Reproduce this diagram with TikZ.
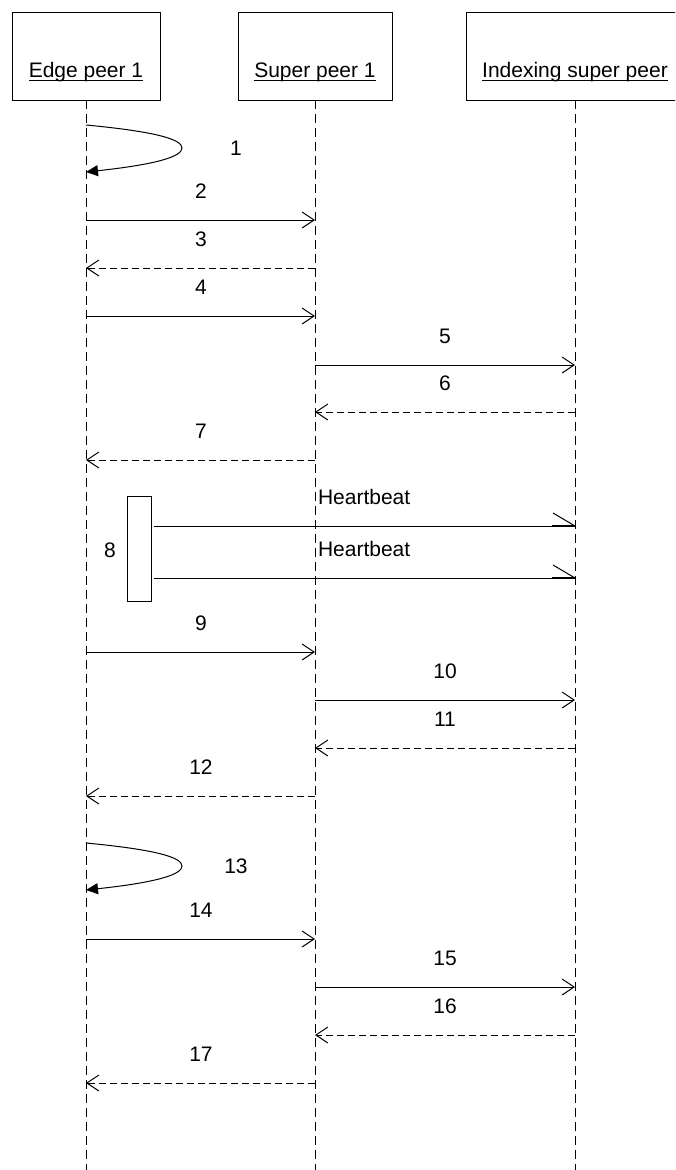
\documentclass[tikz,border=0pt]{standalone}
\usepackage{fontspec}
\setmainfont{Liberation Sans}
\usetikzlibrary{arrows.meta}
\newcommand\ulin[1]{\setbox0\hbox{#1}\rlap{\vrule height -3pt depth 4.3pt width \wd0}\box0}
\begin{document}
\begin{tikzpicture}[x=1pt,y=-1pt,
  every node/.style={font=\fontsize{21}{25}\selectfont, inner sep=0pt, outer sep=0pt},
  head/.style={draw, line width=1pt, minimum height=88pt, anchor=north west},
  title/.style={anchor=base},
  life/.style={line width=1pt, dash pattern=on 9pt off 5pt},
  msg/.style={line width=1pt, -{Straight Barb[length=12pt,width=16pt,line width=1pt]}},
  reply/.style={msg, dash pattern=on 7pt off 4pt},
  selfmsg/.style={line width=1pt, -{Triangle[length=12pt,width=11pt]}},
  lbl/.style={anchor=center},
  hb/.style={line width=1pt},
  hbtip/.style={line width=2pt},
]
\useasboundingbox (0,0) rectangle (675,1170);
\clip (0,0) rectangle (675,1170);

% headers
\node[head, minimum width=148pt] (E) at (12,12) {};
\node[head, minimum width=154pt] (S) at (238,12) {};
\node[head, minimum width=218pt] (I) at (466,12) {};
\node[title] (Et) at (E.center |- 0,77) {\ulin{Edge peer 1}};
\node[title] (St) at (S.center |- 0,77) {\ulin{Super peer 1}};
\node[title] (It) at (I.center |- 0,77) {\ulin{Indexing super peer}};

% lifelines
\coordinate (Eb) at (E.south |- 0,1170);
\coordinate (Sb) at (S.south |- 0,1170);
\coordinate (Ib) at (I.south |- 0,1170);
\draw[life] (E.south) -- (Eb);
\draw[life] (S.south) -- (Sb);
\draw[life] (I.south) -- (Ib);

% message 1 (self)
\coordinate (s1a) at (E.south |- 0,125);
\coordinate (s1b) at (E.south |- 0,172);
\draw[selfmsg] (s1a) .. controls (160,132) and (182,140) .. (182,148)
  .. controls (182,156) and (160,164) .. (s1b);
\node[lbl] (l1) at (236,148) {1};

% E -> S solid
\foreach \n/\y in {2/220,4/316,9/652,14/939}{
  \coordinate (a\n) at (E.south |- 0,\y);
  \coordinate (b\n) at (S.south |- 0,\y);
  \draw[msg] (a\n) -- (b\n);
  \node[lbl] (l\n) at (201,\y-29) {\n};
}
% S -> E dashed
\foreach \n/\y in {3/268,7/460,12/796,17/1083}{
  \coordinate (a\n) at (S.south |- 0,\y);
  \coordinate (b\n) at (E.south |- 0,\y);
  \draw[reply] (a\n) -- (b\n);
  \node[lbl] (l\n) at (201,\y-29) {\n};
}
% S -> I solid
\foreach \n/\y in {5/365,10/700,15/987}{
  \coordinate (a\n) at (S.south |- 0,\y);
  \coordinate (b\n) at (I.south |- 0,\y);
  \draw[msg] (a\n) -- (b\n);
  \node[lbl] (l\n) at (445,\y-29) {\n};
}
% I -> S dashed
\foreach \n/\y in {6/412,11/748,16/1035}{
  \coordinate (a\n) at (I.south |- 0,\y);
  \coordinate (b\n) at (S.south |- 0,\y);
  \draw[reply] (a\n) -- (b\n);
  \node[lbl] (l\n) at (445,\y-29) {\n};
}

% activation 8 with heartbeats
\node[draw, line width=1pt, minimum width=24pt, minimum height=105pt, anchor=north west] (A) at (127,496) {};
\node[lbl] (l8) at (110,550) {8};
\foreach \k/\y in {1/526,2/578}{
  \coordinate (h\k a) at (154,\y);
  \coordinate (h\k b) at (I.south |- 0,\y);
  \coordinate (h\k c) at (552,\y);
  \coordinate (h\k d) at (553,\y-13);
  \draw[hb] (h\k a) -- (h\k b);
  \draw[hbtip] (h\k c) -- (h\k b);
  \draw[hb] (h\k d) -- (h\k b);
  \node[anchor=west] (hl\k) at (318,\y-29) {Heartbeat};
}

% message 13 (self)
\coordinate (s13a) at (E.south |- 0,843);
\coordinate (s13b) at (E.south |- 0,890);
\draw[selfmsg] (s13a) .. controls (160,850) and (182,858) .. (182,866)
  .. controls (182,874) and (160,882) .. (s13b);
\node[lbl] (l13) at (236,866) {13};
\end{tikzpicture}
\end{document}
